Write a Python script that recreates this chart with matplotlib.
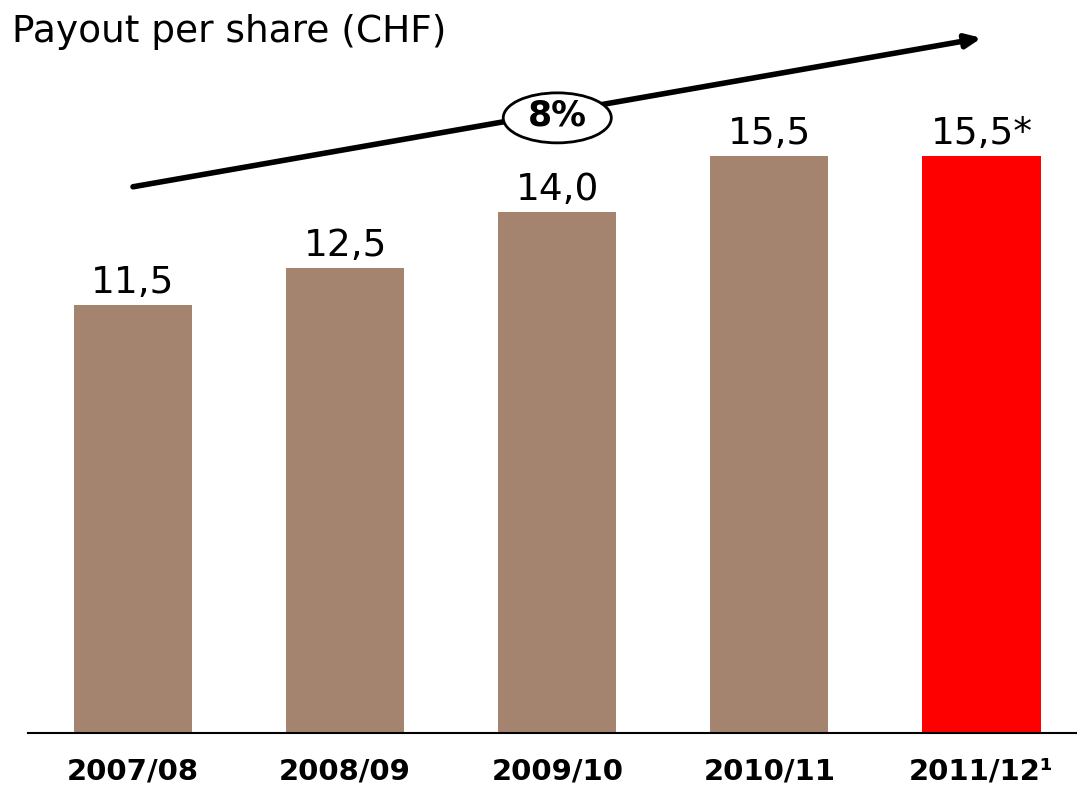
import matplotlib.pyplot as plt
from matplotlib.patches import Ellipse

# data
years = ['2007/08', '2008/09', '2009/10', '2010/11', '2011/12\u00b9']
payout = [11.5, 12.5, 14.0, 15.5, 15.5]
value_labels = ['11,5', '12,5', '14,0', '15,5', '15,5*']
bar_colors = ['#A5846F', '#A5846F', '#A5846F', '#A5846F', '#FF0000']
growth_label = '8%'

plt.rcParams['font.family'] = ['DejaVu Sans']

fig = plt.figure(figsize=(10.77, 7.88), dpi=100)
ax = fig.add_axes([28 / 1077, 55 / 788, 1 - 28 / 1077, 1 - 55 / 788])

x = range(len(years))
ax.bar(x, payout, width=0.557, color=bar_colors)

for i, v in enumerate(payout):
    ax.text(i, v + 0.33, value_labels[i], ha='center', va='baseline', fontsize=27)

ax.set_xlim(-0.495, 4.45)
ax.set_ylim(0, 19.7)
ax.set_xticks(list(x))
ax.set_xticklabels(years, fontsize=21, fontweight='bold')
ax.tick_params(axis='x', length=0, pad=18)
ax.set_yticks([])
for s in ['top', 'right', 'left']:
    ax.spines[s].set_visible(False)
ax.spines['bottom'].set_linewidth(1.5)

# growth arrow
ax.annotate('', xy=(4.0, 18.68), xytext=(0.0, 14.68),
            arrowprops=dict(arrowstyle='-|>,head_length=0.9,head_width=0.4',
                            lw=4, color='black', shrinkA=0, shrinkB=0))
ax.add_patch(Ellipse((2.0, (733 - 118) / 37.2), 108 / 212, 50 / 37.2,
                     facecolor='white', edgecolor='black', lw=2, zorder=5))
ax.text(2.0, (733 - 126) / 37.2, growth_label, ha='center', va='baseline',
        fontsize=25, fontweight='bold', zorder=6)

fig.text(12 / 1077, 1 - 32 / 788, 'Payout per share (CHF)', ha='left', va='center',
         fontsize=27)

fig.savefig('out.png', dpi=100)
